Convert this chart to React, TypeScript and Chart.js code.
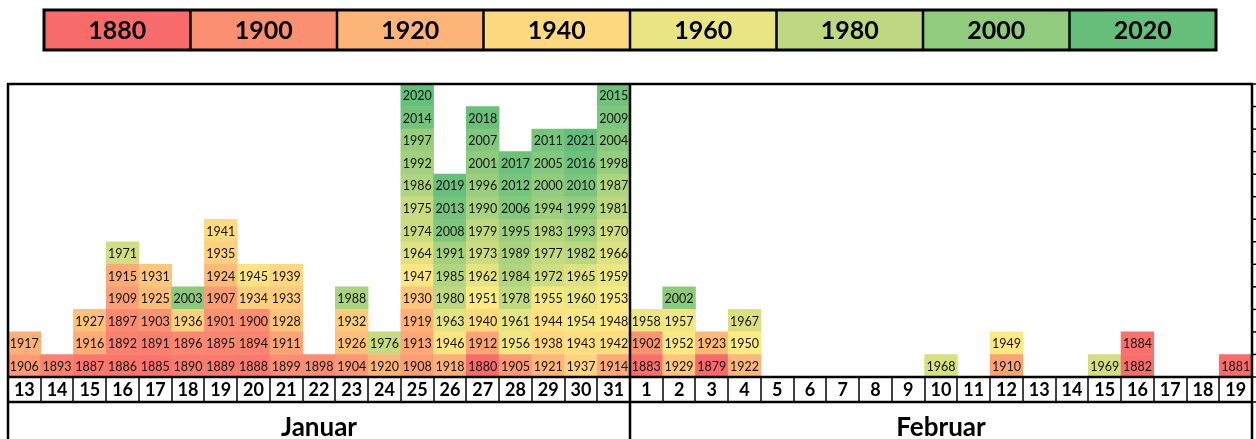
import React, { useEffect, useRef } from "react";
import { Chart, registerables } from "chart.js";

Chart.register(...registerables);

const janDays = ["13","14","15","16","17","18","19","20","21","22","23","24","25","26","27","28","29","30","31"];
const febDays = ["1","2","3","4","5","6","7","8","9","10","11","12","13","14","15","16","17","18","19"];
const dayLabels = [...janDays, ...febDays];
const monthLabels = ["Januar", "Februar"];
const legendYears = [1880, 1900, 1920, 1940, 1960, 1980, 2000, 2020];

// years per day, bottom to top
const yearsByDay: number[][] = [
  [1906, 1917],
  [1893],
  [1887, 1916, 1927],
  [1886, 1892, 1897, 1909, 1915, 1971],
  [1885, 1891, 1903, 1925, 1931],
  [1890, 1896, 1936, 2003],
  [1889, 1895, 1901, 1907, 1924, 1935, 1941],
  [1888, 1894, 1900, 1934, 1945],
  [1899, 1911, 1928, 1933, 1939],
  [1898],
  [1904, 1926, 1932, 1988],
  [1920, 1976],
  [1908, 1913, 1919, 1930, 1947, 1964, 1974, 1975, 1986, 1992, 1997, 2014, 2020],
  [1918, 1946, 1963, 1980, 1985, 1991, 2008, 2013, 2019],
  [1880, 1912, 1940, 1951, 1962, 1973, 1979, 1990, 1996, 2001, 2007, 2018],
  [1905, 1956, 1961, 1978, 1984, 1989, 1995, 2006, 2012, 2017],
  [1921, 1938, 1944, 1955, 1972, 1977, 1983, 1994, 2000, 2005, 2011],
  [1937, 1943, 1954, 1960, 1965, 1982, 1993, 1999, 2010, 2016, 2021],
  [1914, 1942, 1948, 1953, 1959, 1966, 1970, 1981, 1987, 1998, 2004, 2009, 2015],
  [1883, 1902, 1958],
  [1929, 1952, 1957, 2002],
  [1879, 1923],
  [1922, 1950, 1967],
  [],
  [],
  [],
  [],
  [],
  [1968],
  [],
  [1910, 1949],
  [],
  [],
  [1969],
  [1882, 1884],
  [],
  [],
  [1881],
];

const COLOR_MIN = 1879;
const COLOR_MID = 1950;
const COLOR_MAX = 2021;
const RED = [248, 105, 107];
const YELLOW = [255, 235, 132];
const GREEN = [99, 190, 123];

function mix(a: number[], b: number[], t: number) {
  const c = a.map((v, i) => Math.round(v + (b[i] - v) * t));
  return `rgb(${c[0]},${c[1]},${c[2]})`;
}

function yearColor(y: number) {
  if (y <= COLOR_MID) {
    const t = Math.max(0, (y - COLOR_MIN) / (COLOR_MID - COLOR_MIN));
    return mix(RED, YELLOW, t);
  }
  const t = Math.min(1, (y - COLOR_MID) / (COLOR_MAX - COLOR_MID));
  return mix(YELLOW, GREEN, t);
}

const FONT = "Lato, 'Open Sans', sans-serif";
const MAX_STACK = 13;

const cellLabelPlugin = {
  id: "cellLabels",
  afterDatasetsDraw(chart: any) {
    const ctx = chart.ctx;
    ctx.save();
    ctx.font = `12.5px ${FONT}`;
    ctx.fillStyle = "#141414";
    ctx.textAlign = "center";
    ctx.textBaseline = "middle";
    chart.data.datasets.forEach((ds: any, di: number) => {
      const meta = chart.getDatasetMeta(di);
      meta.data.forEach((el: any, i: number) => {
        const yr = ds.years[i];
        if (yr == null) return;
        ctx.fillText(String(yr), el.x, (el.y + el.base) / 2 + 1);
      });
    });
    ctx.restore();
  },
};

const framePlugin = {
  id: "frame",
  afterDraw(chart: any) {
    const ctx = chart.ctx;
    const xs = chart.scales.x;
    const ys = chart.scales.y;
    const { left, right, top, bottom } = chart.chartArea;
    const n = dayLabels.length;
    const px = (i: number) => xs.getPixelForValue(i);
    const edge = (i: number) => (i <= 0 ? left : i >= n ? right : (px(i - 1) + px(i)) / 2);
    const H = chart.height;
    const rowBottom = bottom + 25;

    ctx.save();
    ctx.strokeStyle = "#000";
    ctx.lineCap = "butt";

    // thin separators in day row
    ctx.lineWidth = 1.5;
    for (let i = 1; i < n; i++) {
      const x = Math.round(edge(i));
      ctx.beginPath();
      ctx.moveTo(x, bottom);
      ctx.lineTo(x, rowBottom);
      ctx.stroke();
    }

    // right side tick marks
    ctx.lineWidth = 1.5;
    for (let v = 0; v <= MAX_STACK; v++) {
      const y = ys.getPixelForValue(v);
      ctx.beginPath();
      ctx.moveTo(right, y);
      ctx.lineTo(right + 4, y);
      ctx.stroke();
    }
    ctx.beginPath();
    ctx.moveTo(right, rowBottom);
    ctx.lineTo(right + 4, rowBottom);
    ctx.stroke();

    ctx.lineWidth = 2.5;
    // horizontal lines
    [top, bottom, rowBottom].forEach((y) => {
      ctx.beginPath();
      ctx.moveTo(left - 1, y);
      ctx.lineTo(right + 1, y);
      ctx.stroke();
    });
    // verticals
    [left, edge(janDays.length), right].forEach((x) => {
      ctx.beginPath();
      ctx.moveTo(x, top - 1);
      ctx.lineTo(x, H);
      ctx.stroke();
    });

    // month labels
    ctx.fillStyle = "#000";
    ctx.font = `bold 26px ${FONT}`;
    ctx.textAlign = "center";
    ctx.textBaseline = "middle";
    const mid = edge(janDays.length);
    ctx.fillText(monthLabels[0], (left + mid) / 2, rowBottom + 26);
    ctx.fillText(monthLabels[1], (mid + right) / 2, rowBottom + 26);

    // legend
    const lx0 = 44;
    const lx1 = 1216;
    const ly0 = 10;
    const ly1 = 50;
    const w = (lx1 - lx0) / legendYears.length;
    legendYears.forEach((yr, i) => {
      ctx.fillStyle = yearColor(yr);
      ctx.fillRect(lx0 + i * w, ly0, w, ly1 - ly0);
    });
    ctx.lineWidth = 3;
    ctx.strokeRect(lx0, ly0, lx1 - lx0, ly1 - ly0);
    ctx.lineWidth = 2.5;
    for (let i = 1; i < legendYears.length; i++) {
      ctx.beginPath();
      ctx.moveTo(lx0 + i * w, ly0);
      ctx.lineTo(lx0 + i * w, ly1);
      ctx.stroke();
    }
    ctx.fillStyle = "#000";
    ctx.font = `bold 25px ${FONT}`;
    legendYears.forEach((yr, i) => {
      ctx.fillText(String(yr), lx0 + (i + 0.5) * w, (ly0 + ly1) / 2 + 1);
    });

    ctx.restore();
  },
};

export default function App() {
  const ref = useRef<HTMLCanvasElement>(null);

  useEffect(() => {
    if (!ref.current) return;
    const datasets = Array.from({ length: MAX_STACK }, (_, k) => ({
      label: `layer ${k + 1}`,
      data: yearsByDay.map((ys) => (ys[k] !== undefined ? 1 : null)),
      years: yearsByDay.map((ys) => (ys[k] !== undefined ? ys[k] : null)),
      backgroundColor: yearsByDay.map((ys) => (ys[k] !== undefined ? yearColor(ys[k]) : "rgba(0,0,0,0)")),
      borderWidth: 0,
      barPercentage: 1,
      categoryPercentage: 1,
    }));

    const chart = new Chart(ref.current, {
      type: "bar",
      data: { labels: dayLabels, datasets: datasets as any },
      options: {
        animation: false,
        responsive: false,
        maintainAspectRatio: false,
        layout: { padding: { left: 8, right: 4, top: 84, bottom: 0 } },
        plugins: { legend: { display: false }, tooltip: { enabled: false } },
        scales: {
          x: {
            stacked: true,
            grid: { display: false, drawTicks: false, tickLength: 0 },
            border: { display: false },
            ticks: {
              color: "#000",
              font: { family: FONT, weight: "bold", size: 18 },
              padding: 2,
              maxRotation: 0,
              autoSkip: false,
            },
            afterFit: (scale: any) => {
              scale.height = 62;
            },
          },
          y: {
            stacked: true,
            display: false,
            min: 0,
            max: MAX_STACK,
          },
        },
      },
      plugins: [cellLabelPlugin, framePlugin],
    });
    return () => chart.destroy();
  }, []);

  return (
    <div style={{ position: "absolute", left: 0, top: 0, width: 1256, height: 439 }}>
      <canvas ref={ref} width={1256} height={439} style={{ display: "block" }} />
    </div>
  );
}
